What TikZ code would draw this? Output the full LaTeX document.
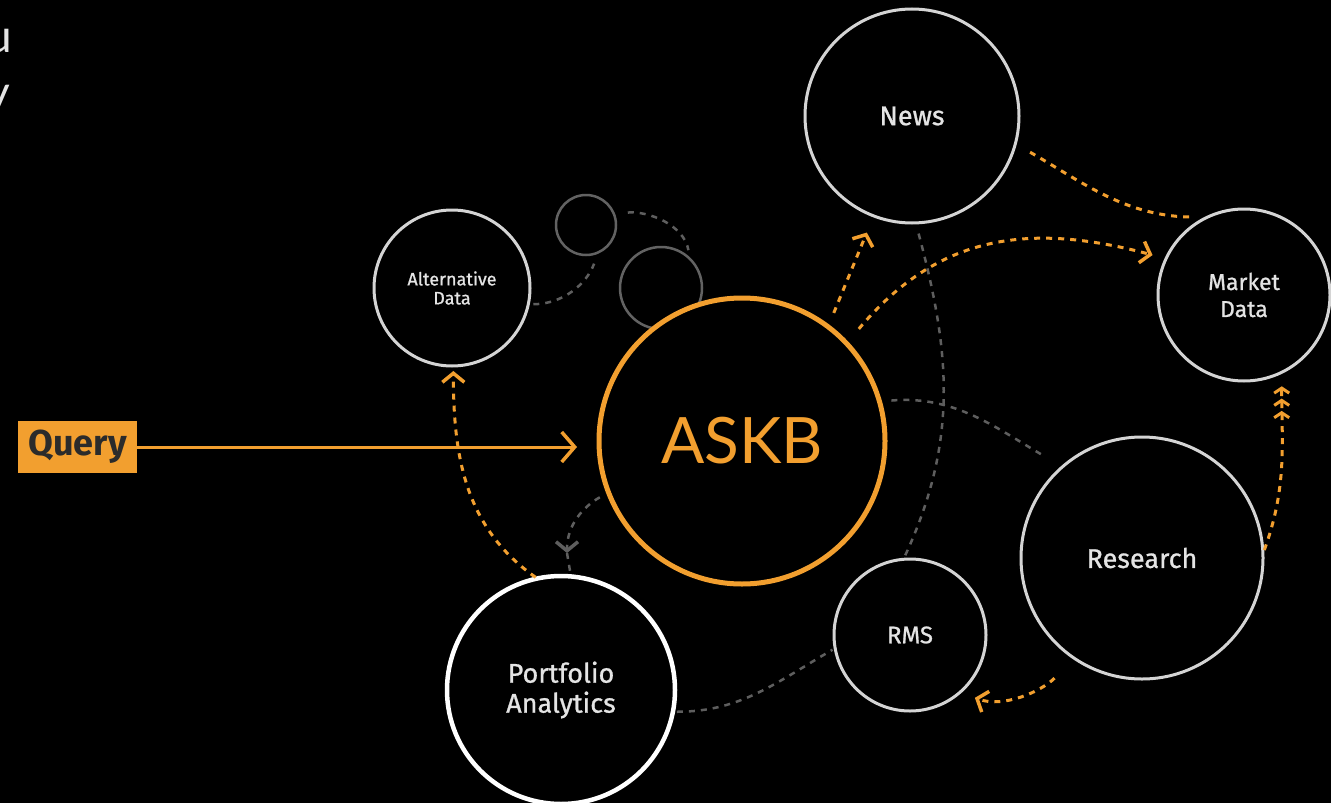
\documentclass[tikz,border=0pt]{standalone}
\usepackage{fontspec}
\setmainfont{Fira Sans}
\newfontfamily\labelfont[FakeBold=0.9]{Fira Sans}
\newfontfamily\hubfont{Lato}
\usetikzlibrary{arrows.meta}

\definecolor{askborange}{HTML}{F29F2F}
\definecolor{ringwhite}{HTML}{D4D4D4}
\definecolor{ringgray}{HTML}{626262}
\definecolor{dashgray}{HTML}{5E5E5E}
\definecolor{labelwhite}{HTML}{E4E4E4}
\definecolor{querytext}{HTML}{2B2B2B}

\begin{document}
\begin{tikzpicture}
[x=1pt, y=1pt,
hub/.style={circle, draw=askborange, line width=5pt, fill=black, inner sep=0pt, outer sep=0pt, text=askborange, font=\hubfont\fontsize{64}{70}\selectfont},
source/.style={circle, draw=ringwhite, line width=3pt, fill=black, inner sep=0pt, outer sep=0pt, align=center, text=labelwhite},
ring/.style={circle, draw=ringgray, line width=2.5pt, fill=black, inner sep=0pt, outer sep=0pt},
flow/.style={draw=askborange, line width=3pt, dash pattern=on 6pt off 6pt},
link/.style={draw=dashgray, line width=2.5pt, dash pattern=on 6pt off 6pt},
chev/.tip={Straight Barb[length=9pt, width=22pt, line width=3.5pt]},
bigchev/.tip={Straight Barb[length=13pt, width=30pt, line width=3.5pt]},
smallchev/.tip={Straight Barb[length=5pt, width=15pt, line width=3pt, sep=4pt]},
]
\useasboundingbox (0,0) rectangle (1331,-803);
\fill[black] (0,0) rectangle (1331,-803);

% cut-off text at the left edge
\node (txtu) [anchor=base east, inner sep=0pt, text=labelwhite, font=\hubfont\fontsize{46}{50}\selectfont] at (12,-52) {u};
\node (txty) [anchor=base east, inner sep=0pt, text=labelwhite, font=\hubfont\fontsize{46}{50}\selectfont] at (10,-108) {y};

\node (dot1) [ring, minimum size=60pt] at (586,-225) {};
\node (dot2) [ring, minimum size=82pt] at (661,-288) {};

\node (askb) [hub, minimum size=286pt] at (742,-441) {ASKB};
\node (news) [source, minimum size=214pt, font=\labelfont\fontsize{27}{30}\selectfont] at (912,-116) {News};
\node (market) [source, minimum size=172pt, font=\labelfont\fontsize{23}{27}\selectfont] at (1244,-295) {Market\\Data};
\node (research) [source, minimum size=242pt, font=\labelfont\fontsize{27}{30}\selectfont] at (1142,-558) {Research};
\node (rms) [source, minimum size=152pt, font=\labelfont\fontsize{24}{27}\selectfont] at (910,-635) {RMS};
\node (alt) [source, minimum size=156pt, font=\labelfont\fontsize{18}{19}\selectfont] at (452,-288) {Alternative\\Data};
\node (portfolio) [source, draw=white, line width=4.5pt, minimum size=228pt, font=\labelfont\fontsize{27}{30}\selectfont] at (561,-690) {Portfolio\\Analytics};

\node (query) [fill=askborange, minimum width=119pt, minimum height=52pt, inner sep=0pt, text=querytext, font=\bfseries\fontsize{36}{38}\selectfont] at (77.5,-447) {Query};

\coordinate (midtip) at (567,-553);

% gray links
\draw[link, shorten <=5pt, shorten >=12pt] (alt.348) to[out=0, in=-110] (dot1.294);
\draw[link, shorten <=14pt, shorten >=9pt] (dot1.22) to[out=5, in=100] (dot2.45);
\draw[link, shorten <=11pt, shorten >=3pt] (news.272) to[out=-75, in=65] (rms.95);
\draw[link, shorten <=12pt, shorten >=23pt] (askb.16) to[out=5, in=150] (research.131);
\draw[link, shorten <=4pt, shorten >=3pt] (portfolio.349) to[out=0, in=210] (rms.190);
\draw[link, shorten <=10pt, -chev] (askb.201) to[out=210, in=90] (midtip);
\draw[link, shorten >=4pt] (midtip) -- (portfolio.85);

% orange flows
\draw[askborange, line width=3pt, shorten >=22pt, -bigchev] (query.east) -- (query.east -| askb.west);
\draw[flow, shorten <=15pt, shorten >=18pt, -chev] (askb.53) -- (news.249);
\draw[flow, shorten <=19pt, shorten >=14pt, -chev] (askb.43) to[out=50, in=165, looseness=1.1] (market.155);
\draw[flow, shorten <=17pt, shorten >=14pt] (news.345) to[out=-30, in=180] (market.115);
\draw[flow, shorten <=2pt, shorten >=5pt, -chev] (portfolio.102) to[out=145, in=-90] (alt.271);
\draw[flow, shorten <=4pt, shorten >=10pt, -{smallchev[] smallchev[] smallchev[]}] (research.2) to[out=70, in=-90] (market.296);
\draw[flow, shorten <=28pt, shorten >=16pt, -chev] (research.236) to[out=225, in=-20] (rms.311);
\end{tikzpicture}
\end{document}
